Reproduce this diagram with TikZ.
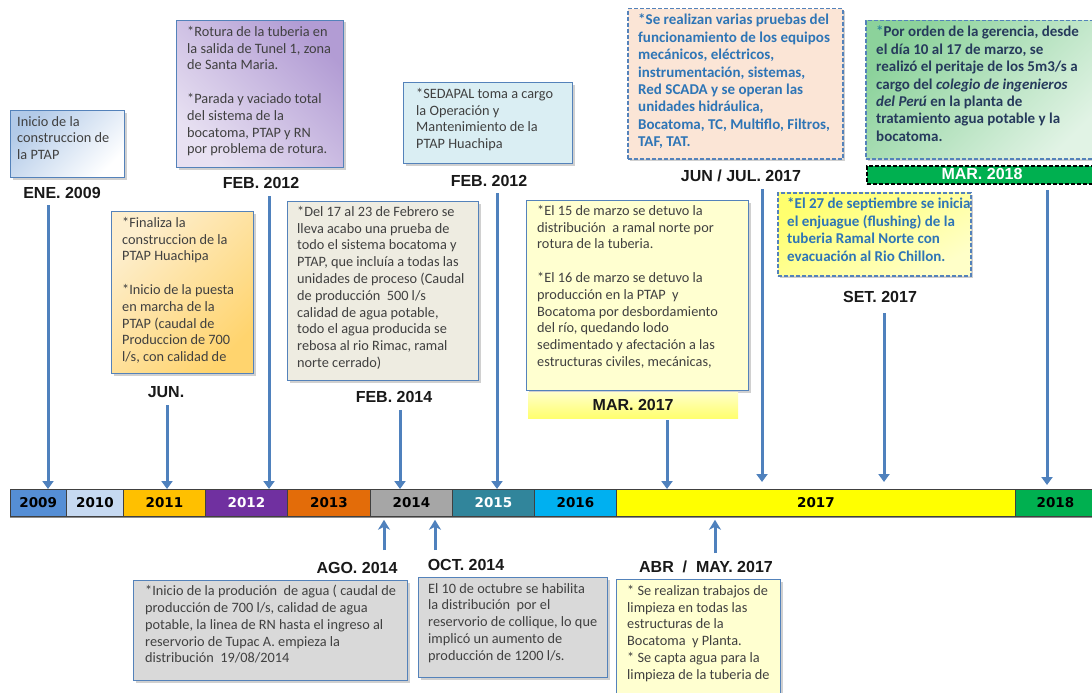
\documentclass[tikz,border=0pt]{standalone}
\usepackage{fontspec}
\setmainfont{Carlito}
\newfontfamily\lblfont{Liberation Sans}
\newfontfamily\yrfont{DejaVu Sans}
\usetikzlibrary{arrows.meta,shadows}
\definecolor{arrowblue}{RGB}{79,129,189}
\definecolor{boxborder}{RGB}{84,130,186}
\definecolor{txtdark}{RGB}{64,64,64}
\definecolor{txtblue}{RGB}{46,117,182}
\definecolor{txtnavy}{RGB}{38,58,92}
\definecolor{startel}{RGB}{49,133,155}
\definecolor{c2009}{RGB}{85,142,213}
\definecolor{c2010}{RGB}{198,217,241}
\definecolor{c2011}{RGB}{255,192,0}
\definecolor{c2012}{RGB}{112,48,160}
\definecolor{c2013}{RGB}{227,108,9}
\definecolor{c2014}{RGB}{166,166,166}
\definecolor{c2015}{RGB}{49,133,155}
\definecolor{c2016}{RGB}{0,176,240}
\definecolor{c2017}{RGB}{255,255,0}
\definecolor{c2018}{RGB}{0,176,80}
\definecolor{bluegrad}{RGB}{178,202,232}
\definecolor{orlight}{RGB}{253,238,205}
\definecolor{ordark}{RGB}{255,212,110}
\definecolor{purdark}{RGB}{178,156,212}
\definecolor{purlight}{RGB}{232,225,242}
\definecolor{beige}{RGB}{238,236,225}
\definecolor{paleblue}{RGB}{218,238,243}
\definecolor{paleyellow}{RGB}{255,255,208}
\definecolor{peach}{RGB}{251,229,214}
\definecolor{yelA}{RGB}{255,255,110}
\definecolor{yelB}{RGB}{255,255,200}
\definecolor{grnA}{RGB}{140,210,155}
\definecolor{grnB}{RGB}{225,243,229}
\definecolor{graybox}{RGB}{217,217,217}
\tikzset{
  box/.style={draw=boxborder, line width=1pt, inner sep=0pt, anchor=north west,
    drop shadow={shadow xshift=2pt,shadow yshift=-2pt,opacity=.3,fill=black!60}},
  dbox/.style={box, dash pattern=on 4pt off 2pt, line width=1.5pt},
  txt/.style={anchor=north west, inner sep=0pt, align=left, text=txtdark,
    font=\fontsize{14.3}{16.8}\selectfont},
  btxt/.style={txt, text=txtblue, font=\fontsize{15}{17.4}\selectfont\bfseries},
  lbl/.style={inner sep=0pt, text=black!90, font=\lblfont\bfseries\fontsize{16}{18}\selectfont},
  yr/.style={draw=black!75, line width=.8pt, minimum height=27pt, inner sep=0pt,
    anchor=north west, font=\yrfont\bfseries\fontsize{13.5}{15}\selectfont},
  arr/.style={draw=arrowblue, line width=3pt, -{Triangle[width=11pt,length=8pt]}},
  uarr/.style={draw=arrowblue, line width=3pt, -{Stealth[width=12pt,length=10pt,inset=3pt]}},
}
\begin{document}
\begin{tikzpicture}[x=1pt,y=-1pt]
\useasboundingbox[fill=white] (0,0) rectangle (1092,693);

% ---------- timeline bar ----------
\fill[black!45] (9.5,515) rectangle (1094,518);
\node[yr, fill=c2009, minimum width=56.5pt] (y2009) at (9.5,489) {2009};
\node[yr, fill=c2010, minimum width=57pt] (y2010) at (66,489) {2010};
\node[yr, fill=c2011, minimum width=82pt] (y2011) at (123,489) {2011};
\node[yr, fill=c2012, minimum width=82pt, text=white] (y2012) at (205,489) {2012};
\node[yr, fill=c2013, minimum width=83pt] (y2013) at (287,489) {2013};
\node[yr, fill=c2014, minimum width=82pt] (y2014) at (370,489) {2014};
\node[yr, fill=c2015, minimum width=82pt, text=white] (y2015) at (452,489) {2015};
\node[yr, fill=c2016, minimum width=82pt] (y2016) at (534,489) {2016};
\node[yr, fill=c2017, minimum width=399pt] (y2017) at (616,489) {2017};
\node[yr, fill=c2018, minimum width=80pt] (y2018) at (1015,489) {2018};

% ---------- top boxes ----------
\node[box, top color=bluegrad, bottom color=white, shading angle=45,
  minimum width=114pt, minimum height=67pt] (b1) at (10,110) {};
\node[txt] (t1) at ([shift={(7,6)}]b1.north west) {Inicio de la\\construccion de\\la PTAP};
\node[lbl] (lENE) at (62,193) {ENE. 2009};

\node[box, top color=orlight, bottom color=ordark, shading angle=45,
  minimum width=142pt, minimum height=162pt] (b2) at (111,211) {};
\node[txt] (t2) at ([shift={(11,6)}]b2.north west)
  {*Finaliza la\\construccion de la\\PTAP Huachipa\\[16.8pt]*Inicio de la puesta\\en marcha de la\\PTAP (caudal de\\Produccion de 700\\l/s, con calidad de};
\node[lbl] (lJUN) at (166,392) {JUN.};

\node[box, top color=purdark, bottom color=purlight, shading angle=-45,
  minimum width=167pt, minimum height=147pt] (b3) at (176,20) {};
\node[txt] (t3) at ([shift={(11,6)}]b3.north west)
  {*Rotura de la tuberia en\\la salida de Tunel 1, zona\\de Santa Maria.\\[16.8pt]*Parada y vaciado total\\del sistema de la\\bocatoma, PTAP y RN\\por problema de rotura.};
\node[lbl] (lFEBa) at (261,183) {FEB. 2012};

\node[box, fill=beige, minimum width=191pt, minimum height=179pt] (b4) at (287,201) {};
\node[txt] (t4) at ([shift={(10,5)}]b4.north west)
  {*Del 17 al 23 de Febrero se\\lleva acabo una prueba de\\todo el sistema bocatoma y\\PTAP, que incluía a todas las\\unidades de proceso (Caudal\\de producción\ \ 500 l/s\\calidad de agua potable,\\todo el agua producida se\\rebosa al rio Rimac, ramal\\norte cerrado)};
\node[lbl] (lFEB14) at (394,397) {FEB. 2014};

\node[box, fill=paleblue, minimum width=169pt, minimum height=81pt] (b5) at (403,82) {};
\node[txt] (t5) at ([shift={(13,6)}]b5.north west)
  {*SEDAPAL toma a cargo\\la Operación y\\Mantenimiento de la\\PTAP Huachipa};
\node[lbl] (lFEBb) at (489,181) {FEB. 2012};

\node[box, fill=paleyellow, minimum width=222pt, minimum height=190pt] (b6) at (526,200) {};
\node[txt] (t6) at ([shift={(11,5)}]b6.north west)
  {*El 15 de marzo se detuvo la\\distribución\ \ a ramal norte por\\rotura de la tuberia.\\[16.8pt]*El 16 de marzo se detuvo la\\producción en la PTAP\ \ y\\Bocatoma por desbordamiento\\del río, quedando lodo\\sedimentado y afectación a las\\estructuras civiles, mecánicas,};
\node[inner sep=0pt, minimum width=210pt, minimum height=26pt, anchor=north west,
  top color=yelB, bottom color=yelA] (band17) at (528,392) {};
\node[lbl] (lMAR17) at (band17.center) {MAR. 2017};

\node[dbox, fill=peach, minimum width=215pt, minimum height=150pt] (b7) at (627,8) {};
\node[btxt] (t7) at ([shift={(11,6)}]b7.north west)
  {*Se realizan varias pruebas del\\funcionamiento de los equipos\\mecánicos, eléctricos,\\instrumentación, sistemas,\\Red SCADA y se operan las\\unidades hidráulica,\\Bocatoma, TC, Multiflo, Filtros,\\TAF, TAT.};
\node[lbl] (lJUNJUL) at (741,176) {JUN / JUL. 2017};

\node[dbox, top color=yelA, bottom color=yelB, shading angle=30,
  minimum width=193pt, minimum height=83pt] (b8) at (777,192) {};
\node[btxt] (t8) at ([shift={(10,6)}]b8.north west)
  {*El 27 de septiembre se inicia\\el enjuague (flushing) de la\\tuberia Ramal Norte con\\evacuación al Rio Chillon.};
\node[lbl] (lSET) at (880,297) {SET. 2017};

\node[dbox, top color=grnA, bottom color=grnB, shading angle=45,
  minimum width=240pt, minimum height=138pt] (b9) at (865,20) {};
\node[btxt, text=txtnavy] (t9) at ([shift={(11,6)}]b9.north west)
  {\textcolor{startel}{*}Por orden de la gerencia, desde\\el día 10 al 17 de marzo, se\\realizó el peritaje de los 5m3/s a\\cargo del \textit{colegio de ingenieros}\\\textit{del Perú} en la planta de\\tratamiento agua potable y la\\bocatoma.};
\node[draw=black, dash pattern=on 4pt off 2pt, line width=1.5pt, fill=c2018,
  minimum width=240pt, minimum height=18pt, inner sep=0pt, anchor=north west] (band18) at (866,165) {};
\node[lbl, text=white] (lMAR18) at (982,174) {MAR. 2018};

% ---------- bottom boxes ----------
\node[lbl] (lAGO) at (357,568) {AGO. 2014};
\node[box, fill=graybox, minimum width=274pt, minimum height=100pt] (b10) at (133,580) {};
\node[txt] (t10) at ([shift={(12,5)}]b10.north west)
  {*Inicio de la produción\ \ de agua ( caudal de\\producción de 700 l/s, calidad de agua\\potable, la linea de RN hasta el ingreso al\\reservorio de Tupac A. empieza la\\distribución\ \ 19/08/2014};

\node[lbl] (lOCT) at (466,565) {OCT. 2014};
\node[box, fill=graybox, minimum width=189pt, minimum height=100pt] (b11) at (418,577) {};
\node[txt] (t11) at ([shift={(10,6)}]b11.north west)
  {El 10 de octubre se habilita\\la distribución\ \ por el\\reservorio de collique, lo que\\implicó un aumento de\\producción de 1200 l/s.};

\node[lbl] (lABR) at (706,567) {ABR\ \ /\ \ MAY. 2017};
\node[box, fill=paleyellow, minimum width=164pt, minimum height=130pt] (b12) at (616,579) {};
\node[txt] (t12) at ([shift={(11,6)}]b12.north west)
  {* Se realizan trabajos de\\limpieza en todas las\\estructuras de la\\Bocatoma\ \ y Planta.\\* Se capta agua para la\\limpieza de la tuberia de};

% ---------- arrows ----------
\coordinate (s1) at (48,205);
\coordinate (s2) at (167,405);
\coordinate (s3) at (269,196);
\coordinate (s4) at (400,410);
\coordinate (s5) at (497,193);
\coordinate (s6) at (667,420);
\coordinate (s7) at (762,189);
\coordinate (s8) at (884,313);
\coordinate (s9) at (1047,190);
\draw[arr] (s1) -- (s1 |- y2009.north);
\draw[arr] (s2) -- (s2 |- y2011.north);
\draw[arr] (s3) -- (s3 |- y2012.north);
\draw[arr] (s4) -- (s4 |- y2014.north);
\draw[arr] (s5) -- (s5 |- y2015.north);
\draw[arr] (s6) -- (s6 |- y2017.north);
\draw[arr, shorten >=7pt] (s7) -- (s7 |- y2017.north);
\draw[arr, shorten >=7pt] (s8) -- (s8 |- y2017.north);
\draw[arr, shorten >=4pt] (s9) -- (s9 |- y2018.north);

\coordinate (u1) at (384,550);
\coordinate (u2) at (435,550);
\coordinate (u3) at (715,553);
\draw[uarr, shorten >=3pt] (u1) -- (u1 |- y2014.south);
\draw[uarr, shorten >=3pt] (u2) -- (u2 |- y2014.south);
\draw[uarr, shorten >=3pt] (u3) -- (u3 |- y2017.south);
\end{tikzpicture}
\end{document}
